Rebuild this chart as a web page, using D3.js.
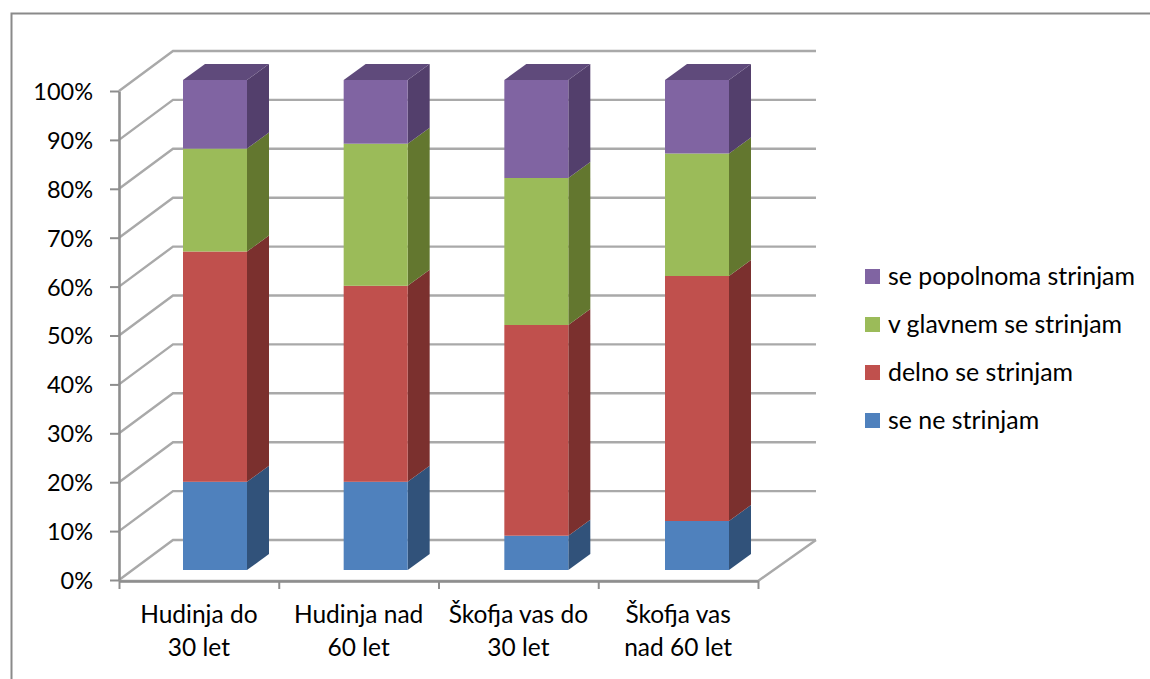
<!DOCTYPE html>
<html><head><meta charset="utf-8">
<script src="https://cdn.jsdelivr.net/npm/d3@7/dist/d3.min.js"></script>
<style>html,body{margin:0;padding:0;background:#fff}svg{display:block}text{font-family:Lato,"Open Sans",sans-serif;fill:#000}</style>
</head><body><svg id="c" width="1150" height="679"></svg>
<script>
const categories=[["Hudinja do","30 let"],["Hudinja nad","60 let"],["Škofja vas do","30 let"],["Škofja vas","nad 60 let"]];
const seriesNames=["se ne strinjam","delno se strinjam","v glavnem se strinjam","se popolnoma strinjam"];
const seNe=[18,18,7,10];
const delno=[47,40,43,50];
const vGlavnem=[21,29,30,25];
const sePopolnoma=[14,13,20,15];
const colors=["#4f81bd","#c0504d","#9bbb59","#8064a2"];
const sideColors=["#31527a","#7b302e","#63772f","#533f6c"];
const topColor="#5f4a7b";
const yTicks=d3.range(0,101,10);

const svg=d3.select("#c");
const L=119,R=758,B=580,T=91,DX=54,DY=-40;
const FS=24.5;
const y=d3.scaleLinear().domain([0,100]).range([B,T]);
const yBar=d3.scaleLinear().domain([0,100]).range([570,80]);
const xBar=d3.scaleLinear().domain([0,3]).range([183,665]);
const xTickScale=d3.scaleLinear().domain([0,4]).range([L,R]);
const grid="#a9a9a9";
const axisCol="#8e8e8e";

// frame
svg.append("path").attr("d","M11.5,679V13.5H1150").attr("fill","none").attr("stroke","#8a8a8a").attr("stroke-width",2);

// walls: gridlines
const g=svg.append("g").attr("fill","none").attr("stroke",grid).attr("stroke-width",2.4);
yTicks.forEach(t=>{
  g.append("path").attr("d",d3.line()([[L,y(t)],[L+DX,y(t)+DY],[R+58,y(t)+DY]]));
});
g.append("path").attr("d",d3.line()([[L,B+1],[R,B+1],[R+DX+4,B+DY]]));

// stacked bars
const stack=d3.stack().keys(d3.range(4))(categories.map((_,i)=>[seNe[i],delno[i],vGlavnem[i],sePopolnoma[i]]));
const bw=64,dxb=22,dyb=-16;
const bars=svg.append("g");
categories.forEach((_,i)=>{
  const x0=xBar(i),x1=x0+bw;
  stack.forEach((s,k)=>{
    const a=yBar(s[i][0]),b=yBar(s[i][1]);
    bars.append("path").attr("fill",sideColors[k]).attr("d",d3.line()([[x1,a],[x1+dxb,a+dyb],[x1+dxb,b+dyb],[x1,b]])+"Z");
    bars.append("rect").attr("x",x0).attr("y",b).attr("width",bw).attr("height",a-b).attr("fill",colors[k]);
    if(k===3) bars.append("path").attr("fill",topColor).attr("d",d3.line()([[x0,b],[x0+dxb,b+dyb],[x1+dxb,b+dyb],[x1,b]])+"Z");
  });
});

// axes
const ya=svg.append("g").attr("transform",`translate(${L},0)`).call(d3.axisLeft(y).tickValues(yTicks).tickFormat(d=>d+"%").tickSize(9).tickSizeOuter(0));
ya.selectAll(".domain").attr("stroke",axisCol).attr("stroke-width",2.6);
ya.selectAll(".tick line").attr("stroke",axisCol).attr("stroke-width",2);
ya.selectAll("text").attr("font-size",23.5).attr("x",-26).attr("dy","0.36em").style("font-family","Lato").attr("text-anchor","end");
const xa=svg.append("g").attr("transform",`translate(0,${B+1})`).call(d3.axisBottom(xTickScale).tickValues(d3.range(5)).tickFormat("").tickSize(8).tickSizeOuter(0));
xa.selectAll(".domain").attr("stroke",axisCol).attr("stroke-width",2.6);
xa.selectAll(".tick line").attr("stroke",axisCol).attr("stroke-width",2);

// category labels
categories.forEach((c,i)=>{
  c.forEach((ln,j)=>{
    svg.append("text").attr("x",(xTickScale(i)+xTickScale(i+1))/2).attr("y",623+j*33).attr("text-anchor","middle").attr("font-size",FS).text(ln);
  });
});

// legend
[3,2,1,0].forEach((k,j)=>{
  svg.append("rect").attr("x",865).attr("y",269+j*48).attr("width",15).attr("height",15).attr("fill",colors[k]);
  svg.append("text").attr("x",888).attr("y",285+j*48).attr("font-size",24.9).text(seriesNames[k]);
});
</script></body></html>
